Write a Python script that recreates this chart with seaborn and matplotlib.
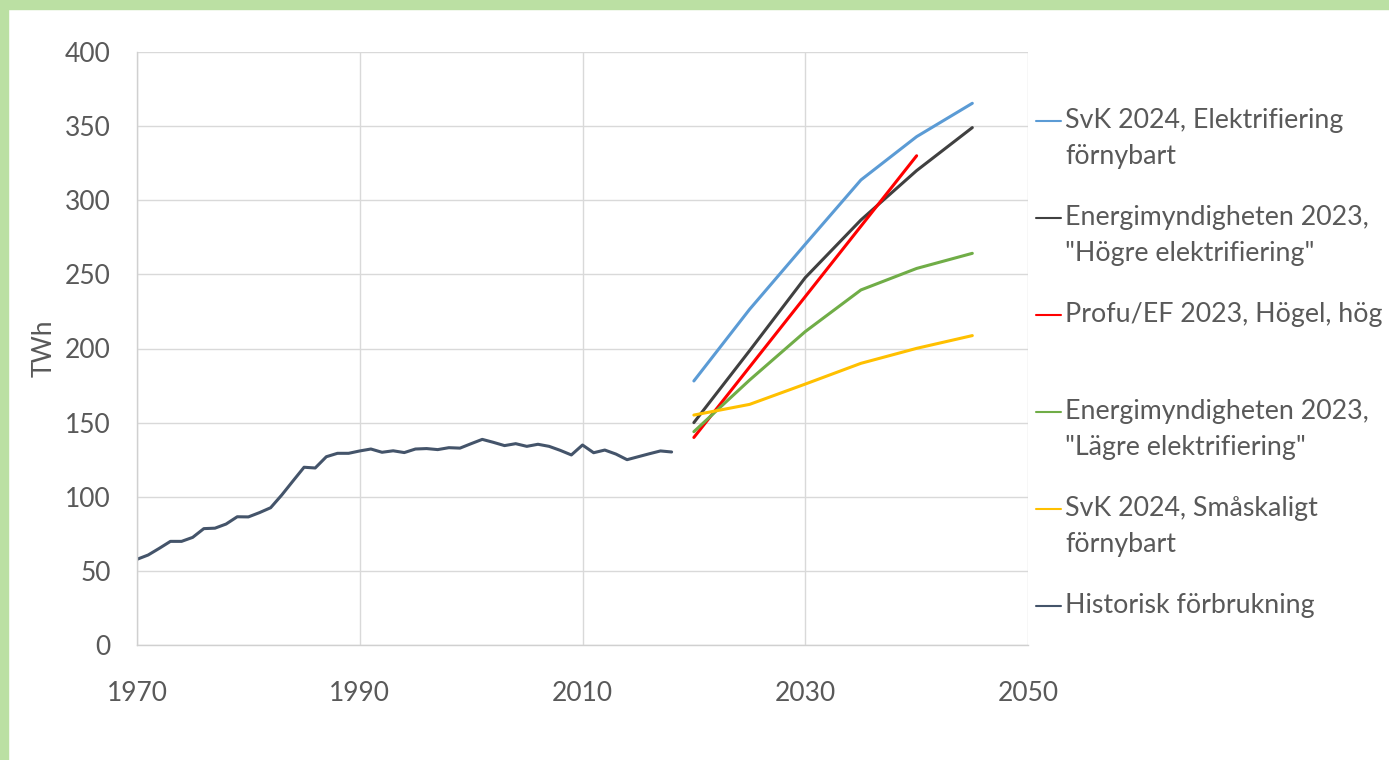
import matplotlib
matplotlib.use("Agg")
import matplotlib.pyplot as plt
import seaborn as sns
import pandas as pd
import numpy as np
from matplotlib.patches import Rectangle
from matplotlib.legend_handler import HandlerLine2D

sns.set_theme(style="white")
plt.rcParams['font.family'] = ['Lato', 'DejaVu Sans']

hist_years = list(range(1970, 2019))
hist_values = [57.8, 60.7, 65.2, 69.9, 69.9, 72.6, 78.5, 78.8, 81.6, 86.5,
               86.4, 89.3, 92.6, 101.2, 110.6, 119.9, 119.4, 127.0, 129.3, 129.3,
               130.9, 132.2, 130.0, 131.0, 129.8, 132.2, 132.5, 131.8, 133.1, 132.8,
               135.8, 138.7, 136.7, 134.5, 135.8, 134.0, 135.4, 134.0, 131.3, 128.2,
               134.9, 129.7, 131.5, 128.8, 125.0, 127.0, 129.0, 130.9, 130.2]

proj_years = [2020, 2025, 2030, 2035, 2040, 2045]
svk_elektrifiering = [178.1, 226.4, 270.3, 313.7, 342.9, 365.4]
em_hogre = [150.0, 198.5, 247.8, 286.7, 320.0, 349.0]
profu_years = [2020, 2025, 2030, 2035, 2040]
profu_hogel = [140.0, 187.5, 235.0, 282.5, 330.0]
em_lagre = [143.9, 178.7, 211.4, 239.5, 254.0, 264.2]
svk_smaskaligt = [155.1, 162.3, 176.0, 190.0, 200.1, 208.7]

labels = ["SvK 2024, Elektrifiering\nförnybart",
          "Energimyndigheten 2023,\n\"Högre elektrifiering\"",
          "Profu/EF 2023, Högel, hög",
          "Energimyndigheten 2023,\n\"Lägre elektrifiering\"",
          "SvK 2024, Småskaligt\nförnybart",
          "Historisk förbrukning"]
colors = ["#5b9bd5", "#404040", "#ff0000", "#70ad47", "#ffc000", "#44546a"]

series = [(proj_years, svk_elektrifiering), (proj_years, em_hogre),
          (profu_years, profu_hogel), (proj_years, em_lagre),
          (proj_years, svk_smaskaligt), (hist_years, hist_values)]

frames = []
for lab, (xs, ys) in zip(labels, series):
    frames.append(pd.DataFrame({"year": xs, "TWh": ys, "series": lab}))
df = pd.concat(frames, ignore_index=True)

fig = plt.figure(figsize=(13.89, 7.60), dpi=100)
ax = fig.add_axes([137/1389, 1-645/760, (1028-137)/1389, (645-52)/760])

sns.lineplot(data=df, x="year", y="TWh", hue="series", hue_order=labels,
             palette=dict(zip(labels, colors)), ax=ax, linewidth=2.2,
             estimator=None, sort=False)

ax.set_xlim(1970, 2050)
ax.set_ylim(0, 400)
ax.set_xticks([1970, 1990, 2010, 2030, 2050])
ax.set_yticks(range(0, 401, 50))
ax.grid(True, color="#d9d9d9", linewidth=1.0)
ax.set_axisbelow(True)
for s in ["top", "right"]:
    ax.spines[s].set_visible(False)
for s in ["left", "bottom"]:
    ax.spines[s].set_color("#d0d0d0")
    ax.spines[s].set_linewidth(1.0)
ax.tick_params(axis="both", colors="#595959", labelsize=19, length=0)
ax.tick_params(axis="y", pad=19)
ax.tick_params(axis="x", pad=26)
ax.set_xlabel("")
ax.set_ylabel("TWh", fontsize=19, color="#595959", labelpad=6)

LEG_FS = 19.3
SHIFT = 13.0  # points: move handle to first text line


class FirstLineHandler(HandlerLine2D):
    def create_artists(self, legend, orig_handle, xdescent, ydescent,
                       width, height, fontsize, trans):
        return super().create_artists(legend, orig_handle, xdescent,
                                      ydescent - 2 * SHIFT, width, height,
                                      fontsize, trans)


handles, hl = ax.get_legend_handles_labels()
hl2 = [l if "\n" in l else l + "\n " for l in hl]
leg = ax.legend(handles, hl2, loc="upper left", bbox_to_anchor=(1.0, 0.919),
                frameon=False, fontsize=LEG_FS, handlelength=0.93,
                handletextpad=0.15, labelspacing=1.34, borderaxespad=0.0,
                borderpad=0.3,
                handler_map={matplotlib.lines.Line2D: FirstLineHandler()})
for t in leg.get_texts():
    t.set_color("#595959")
    t.set_linespacing(1.55)
for l in leg.get_lines():
    l.set_linewidth(1.5)

fig.patches.append(Rectangle((0, 0), 8/1389, 1, transform=fig.transFigure,
                             color="#bbe0a3", zorder=10))
fig.patches.append(Rectangle((0, 1-9/760), 1, 9/760, transform=fig.transFigure,
                             color="#bbe0a3", zorder=10))

fig.savefig("out.png", dpi=100)
